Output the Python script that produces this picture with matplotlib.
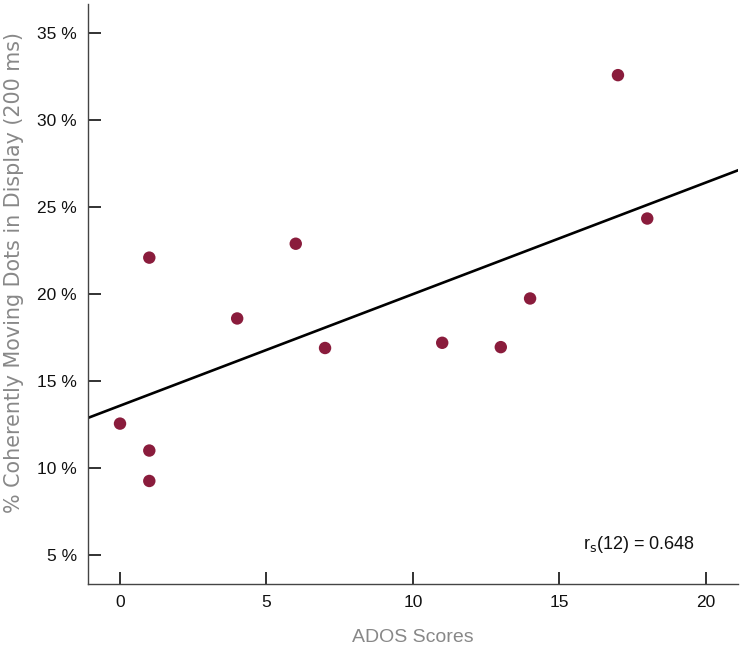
import numpy as np
import matplotlib.pyplot as plt

plt.rcParams['font.family'] = ['Liberation Sans', 'DejaVu Sans']

# ADOS scores and % coherence threshold (200 ms)
ados = [0, 1, 1, 1, 4, 6, 7, 11, 13, 14, 17, 18]
coherence = [12.55, 22.1, 11.0, 9.25, 18.6, 22.9, 16.9, 17.2, 16.95, 19.75, 32.6, 24.35]

# regression line
slope = 0.642
intercept = 13.58

xticks = [0, 5, 10, 15, 20]
yticks = [5, 10, 15, 20, 25, 30, 35]
stat_text = r'r$_\mathrm{s}$(12) = 0.648'

fig = plt.figure(figsize=(7.44, 6.48), dpi=100)
ax = fig.add_axes([0.118, 0.099, 0.874, 0.895])

xlim = (-1.1, 21.1)
xs = np.array(xlim)
ax.plot(xs, intercept + slope * xs, color='black', lw=1.9, zorder=2)
ax.scatter(ados, coherence, s=80, color='#8a1c3c', zorder=3, edgecolors='none')

ax.set_xlim(*xlim)
ax.set_ylim(3.33, 36.7)
ax.set_xticks(xticks)
ax.set_xticklabels([str(t) for t in xticks])
ax.set_yticks(yticks)
ax.set_yticklabels([f'{t} %' for t in yticks])

for s in ['top', 'right']:
    ax.spines[s].set_visible(False)
for s in ['left', 'bottom']:
    ax.spines[s].set_color('#444444')
    ax.spines[s].set_linewidth(1.0)

ax.tick_params(direction='in', length=9, width=1.3, color='#222222',
               labelsize=12.5, labelcolor='#111111', pad=8)

ax.set_xlabel('ADOS Scores', fontsize=14, color='#888888', labelpad=14)
ax.set_ylabel('% Coherently Moving Dots in Display (200 ms)', fontsize=14.9,
              color='#888888', family=['DejaVu Sans'])
ax.yaxis.set_label_coords(-0.098, 0.537)

ax.text(15.8, 5.6, stat_text, fontsize=13, color='#111111', va='center')

fig.savefig('out.png', dpi=100)
